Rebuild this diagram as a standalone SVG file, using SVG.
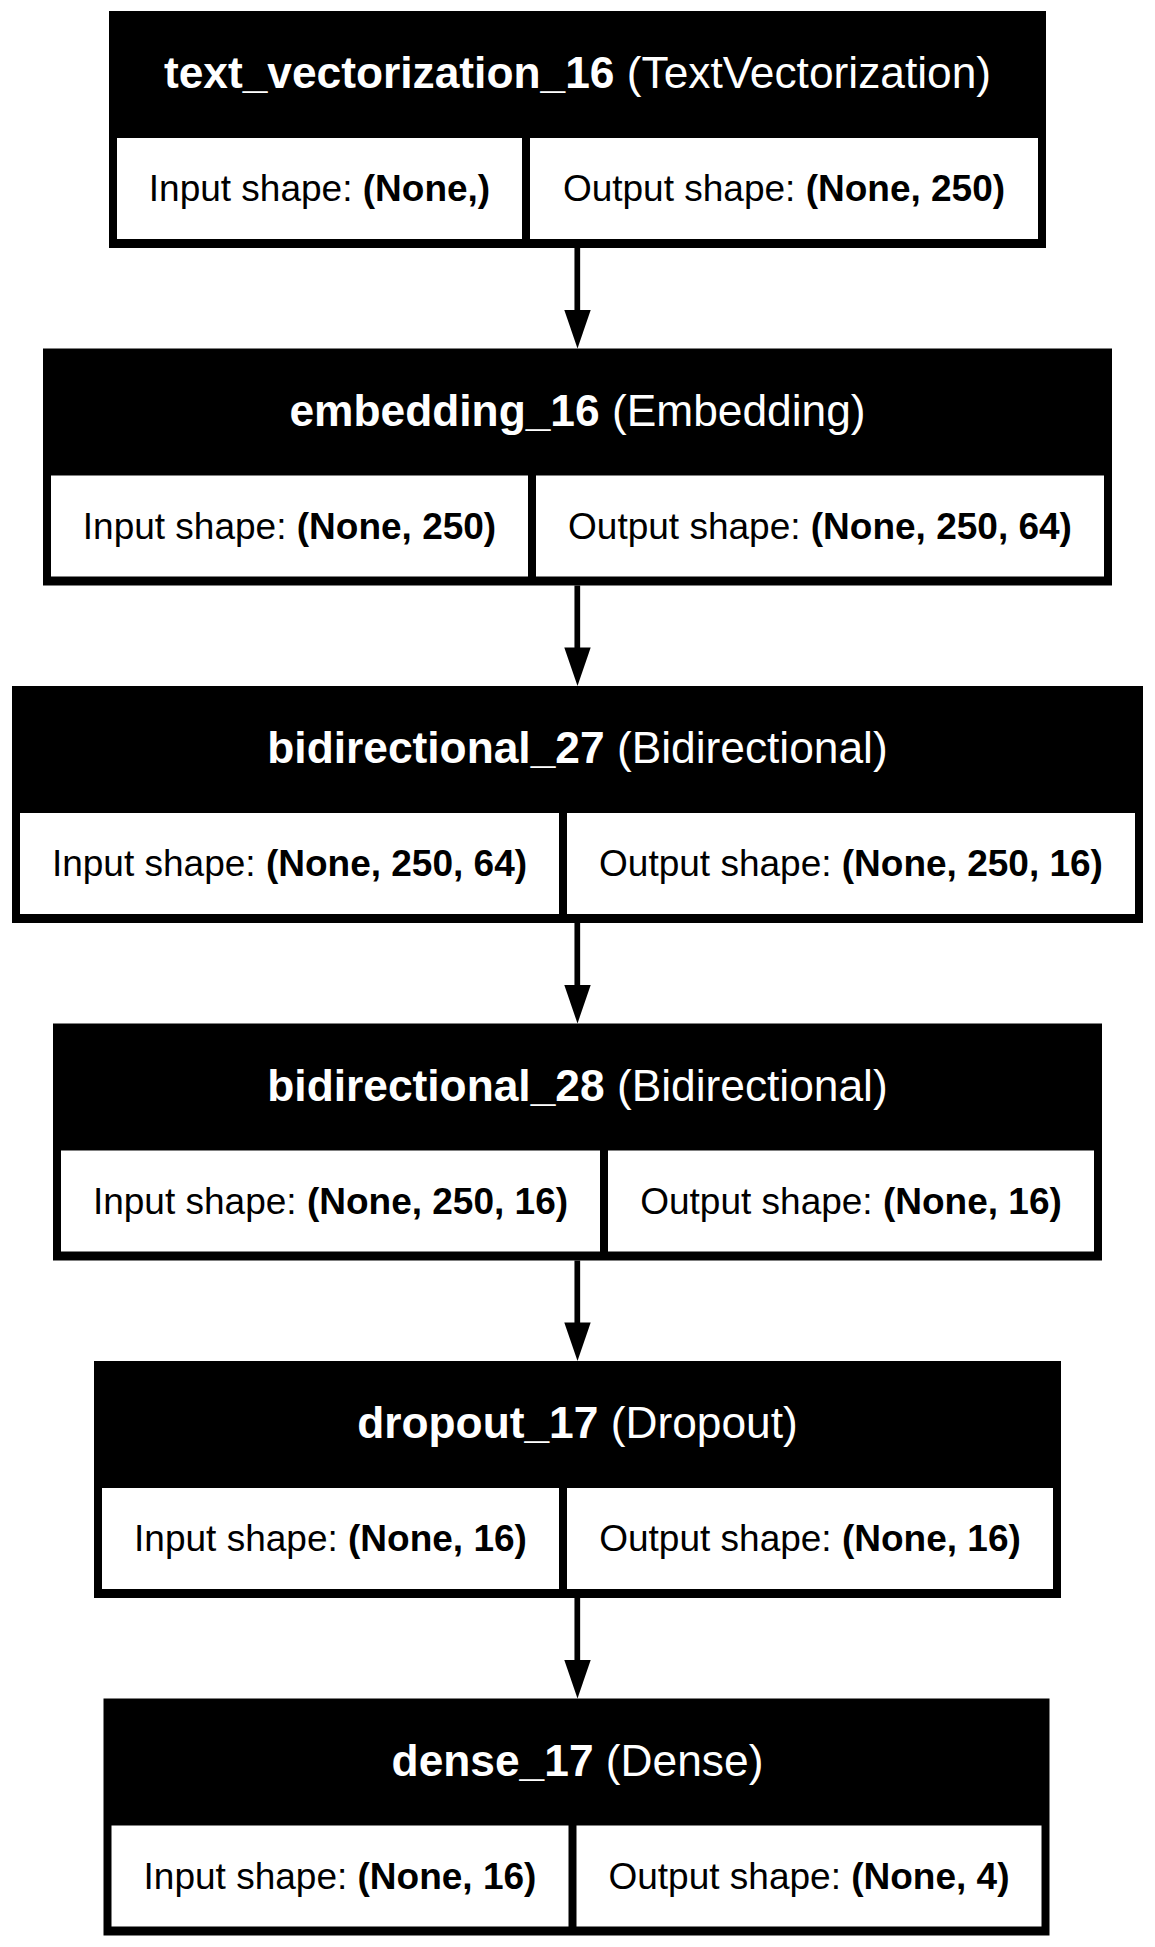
<svg xmlns="http://www.w3.org/2000/svg" width="1155" height="1947" viewBox="0 0 1155 1947">
<style>
.frame{fill:#000}
.cell{fill:#fff}
.title{font-family:"Liberation Sans",Arial,sans-serif;font-size:44.3px;fill:#fff;text-anchor:middle}
.lbl{font-family:"Liberation Sans",Arial,sans-serif;font-size:37px;fill:#000;text-anchor:middle}
.b{font-weight:bold}
.edge{stroke:#000;stroke-width:5.7;fill:none}
.head{fill:#000}
</style>
<rect x="0" y="0" width="1155" height="1947" fill="#fff"/>
<g id="connectors">
<line class="edge" x1="577.3" y1="248" x2="577.3" y2="312"/>
<polygon class="head" points="564.3,310 590.7,310 577.5,348.5"/>
<line class="edge" x1="577.3" y1="585.5" x2="577.3" y2="649.5"/>
<polygon class="head" points="564.3,647.5 590.7,647.5 577.5,686"/>
<line class="edge" x1="577.3" y1="923" x2="577.3" y2="987"/>
<polygon class="head" points="564.3,985 590.7,985 577.5,1023.5"/>
<line class="edge" x1="577.3" y1="1260.5" x2="577.3" y2="1324.5"/>
<polygon class="head" points="564.3,1322.5 590.7,1322.5 577.5,1361"/>
<line class="edge" x1="577.3" y1="1598" x2="577.3" y2="1662"/>
<polygon class="head" points="564.3,1660 590.7,1660 577.5,1698.5"/>
</g>
<g id="text_vectorization_16">
<rect class="frame" x="109" y="11" width="937" height="237"/>
<rect class="cell" x="117" y="138" width="405" height="101"/>
<rect class="cell" x="530" y="138" width="508" height="101"/>
<text class="title" x="577.5" y="88"><tspan class="b">text_vectorization_16</tspan> (TextVectorization)</text>
<text class="lbl" x="319.5" y="201">Input shape: <tspan class="b">(None,)</tspan></text>
<text class="lbl" x="784" y="201">Output shape: <tspan class="b">(None, 250)</tspan></text>
</g>
<g id="embedding_16">
<rect class="frame" x="43" y="348.5" width="1069" height="237"/>
<rect class="cell" x="51" y="475.5" width="477" height="101"/>
<rect class="cell" x="536" y="475.5" width="568" height="101"/>
<text class="title" x="577.5" y="425.5"><tspan class="b">embedding_16</tspan> (Embedding)</text>
<text class="lbl" x="289.5" y="538.5">Input shape: <tspan class="b">(None, 250)</tspan></text>
<text class="lbl" x="820" y="538.5">Output shape: <tspan class="b">(None, 250, 64)</tspan></text>
</g>
<g id="bidirectional_27">
<rect class="frame" x="12" y="686" width="1131" height="237"/>
<rect class="cell" x="20" y="813" width="539" height="101"/>
<rect class="cell" x="567" y="813" width="568" height="101"/>
<text class="title" x="577.5" y="763"><tspan class="b">bidirectional_27</tspan> (Bidirectional)</text>
<text class="lbl" x="289.5" y="876">Input shape: <tspan class="b">(None, 250, 64)</tspan></text>
<text class="lbl" x="851" y="876">Output shape: <tspan class="b">(None, 250, 16)</tspan></text>
</g>
<g id="bidirectional_28">
<rect class="frame" x="53" y="1023.5" width="1049" height="237"/>
<rect class="cell" x="61" y="1150.5" width="539" height="101"/>
<rect class="cell" x="608" y="1150.5" width="486" height="101"/>
<text class="title" x="577.5" y="1100.5"><tspan class="b">bidirectional_28</tspan> (Bidirectional)</text>
<text class="lbl" x="330.5" y="1213.5">Input shape: <tspan class="b">(None, 250, 16)</tspan></text>
<text class="lbl" x="851" y="1213.5">Output shape: <tspan class="b">(None, 16)</tspan></text>
</g>
<g id="dropout_17">
<rect class="frame" x="94" y="1361" width="967" height="237"/>
<rect class="cell" x="102" y="1488" width="457" height="101"/>
<rect class="cell" x="567" y="1488" width="486" height="101"/>
<text class="title" x="577.5" y="1438"><tspan class="b">dropout_17</tspan> (Dropout)</text>
<text class="lbl" x="330.5" y="1551">Input shape: <tspan class="b">(None, 16)</tspan></text>
<text class="lbl" x="810" y="1551">Output shape: <tspan class="b">(None, 16)</tspan></text>
</g>
<g id="dense_17">
<rect class="frame" x="103.5" y="1698.5" width="946" height="237"/>
<rect class="cell" x="111.5" y="1825.5" width="457" height="101"/>
<rect class="cell" x="576.5" y="1825.5" width="465" height="101"/>
<text class="title" x="577.5" y="1775.5"><tspan class="b">dense_17</tspan> (Dense)</text>
<text class="lbl" x="340" y="1888.5">Input shape: <tspan class="b">(None, 16)</tspan></text>
<text class="lbl" x="809" y="1888.5">Output shape: <tspan class="b">(None, 4)</tspan></text>
</g>
</svg>
